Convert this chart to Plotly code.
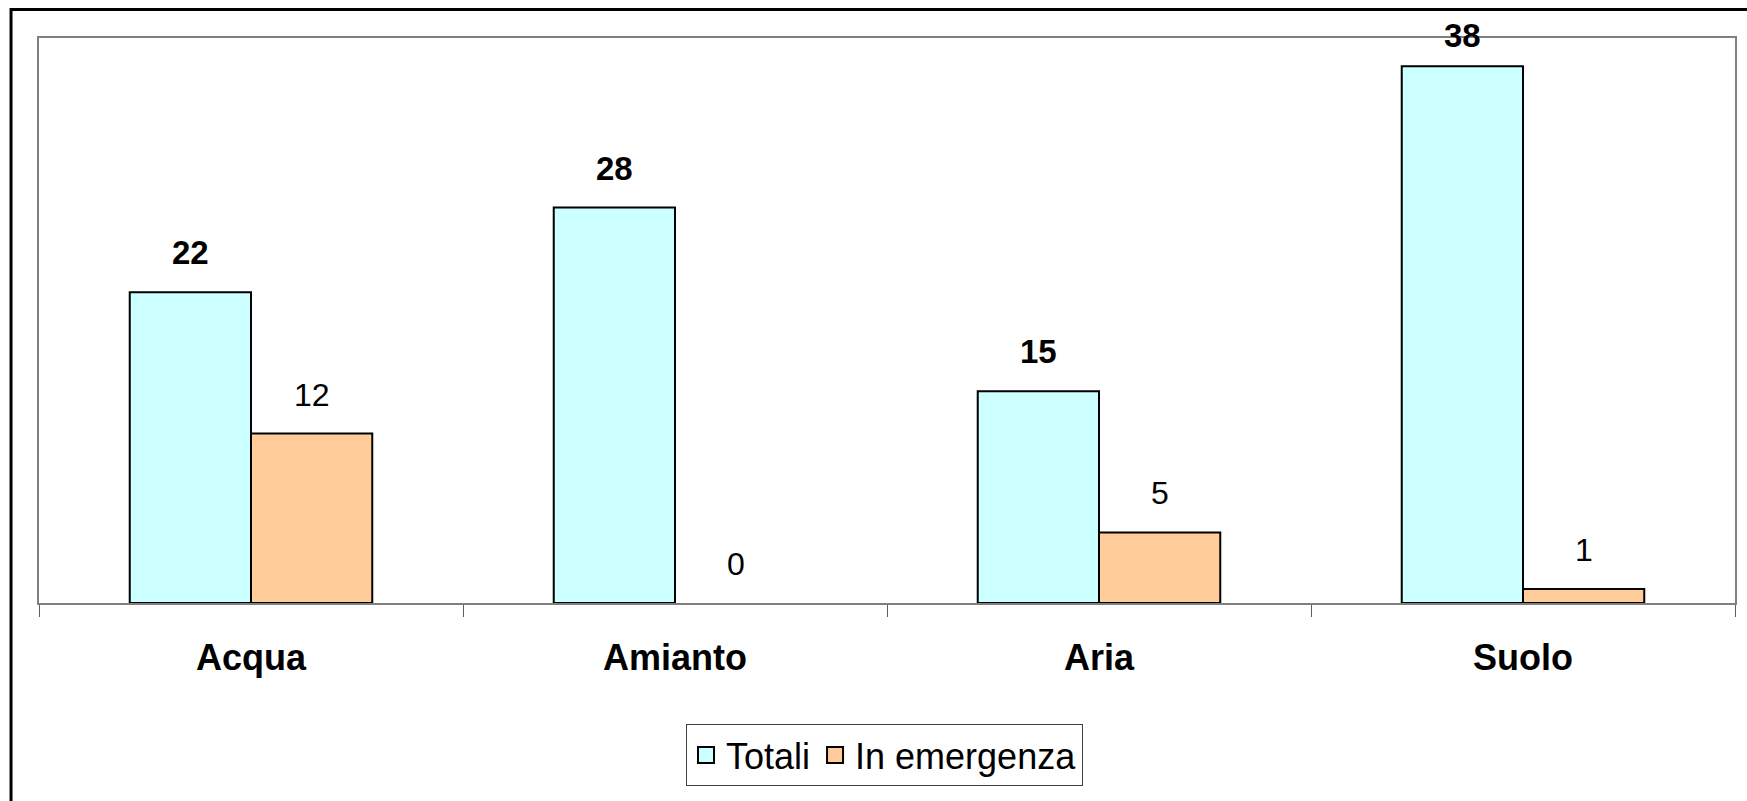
import plotly.graph_objects as go

# Data
categories = ["Acqua", "Amianto", "Aria", "Suolo"]
totali = [22, 28, 15, 38]
emergenza = [12, 0, 5, 1]
series_names = ["Totali", "In emergenza"]

# Figure geometry (pixels)
W, H = 1747, 801
ML, MR, MT, MB = 39, 10, 38, 198
PW = W - ML - MR
PH = H - MT - MB
Y_MAX = 40
BARGAP = 0.428
BAR_PX = PW / len(categories) * (1 - BARGAP) / 2

FONT = "Arial, 'Liberation Sans', sans-serif"
COL_TOT = "#CCFFFF"
COL_EME = "#FFCC99"
LABEL_GAP = 19      # distance between label box and bar top
LABEL_BOX = 42      # approximate label box height
LABEL_TOP_MIN = 14  # labels never rise above this pixel row


def px_to_paper_x(px):
    return (px - ML) / PW


def px_to_paper_y(px):
    return (H - MB - px) / PH


def label_shift(v):
    bar_top = MT + PH * (1 - v / Y_MAX)
    return min(LABEL_GAP, bar_top - LABEL_TOP_MIN - LABEL_BOX)


def outline_widths(vals):
    return [2 if v > 0 else 0 for v in vals]


fig = go.Figure()
fig.add_trace(go.Bar(
    x=categories, y=totali, name=series_names[0], legendgroup="tot",
    showlegend=False,
    marker=dict(color=COL_TOT, line=dict(color="black", width=outline_widths(totali))),
))
fig.add_trace(go.Bar(
    x=categories, y=emergenza, name=series_names[1], legendgroup="eme",
    showlegend=False,
    marker=dict(color=COL_EME, line=dict(color="black", width=outline_widths(emergenza))),
))

# Legend entries with larger square swatches
for name, col, grp in [(series_names[0], COL_TOT, "tot"), (series_names[1], COL_EME, "eme")]:
    fig.add_trace(go.Scatter(
        x=[None], y=[None], mode="markers", name=name, legendgroup=grp,
        marker=dict(symbol="square", size=16, color=col, line=dict(color="black", width=2)),
        hoverinfo="skip",
    ))

# Value labels above the bars
annotations = []
for cat, v in zip(categories, totali):
    annotations.append(dict(
        x=cat, y=v, xref="x", yref="y", text=f"<b>{v}</b>", showarrow=False,
        xshift=-BAR_PX / 2, yshift=label_shift(v), yanchor="bottom",
        font=dict(family=FONT, size=33, color="black"),
    ))
for cat, v in zip(categories, emergenza):
    annotations.append(dict(
        x=cat, y=v, xref="x", yref="y", text=f"{v}", showarrow=False,
        xshift=BAR_PX / 2, yshift=label_shift(v), yanchor="bottom",
        font=dict(family=FONT, size=32, color="black"),
    ))

# Outer chart frame
shapes = [dict(
    type="rect", xref="paper", yref="paper",
    x0=px_to_paper_x(11), x1=px_to_paper_x(1770),
    y0=px_to_paper_y(830), y1=px_to_paper_y(9.5),
    line=dict(color="black", width=3), fillcolor="rgba(0,0,0,0)",
    layer="above",
)]

fig.update_layout(
    width=W, height=H,
    margin=dict(l=ML, r=MR, t=MT, b=MB, pad=0),
    paper_bgcolor="white", plot_bgcolor="white",
    barmode="group", bargap=BARGAP, bargroupgap=0,
    font=dict(family=FONT, color="black"),
    annotations=annotations,
    shapes=shapes,
    showlegend=True,
    legend=dict(
        orientation="h", x=px_to_paper_x(885.5), xanchor="center",
        y=px_to_paper_y(724), yanchor="top",
        bordercolor="#404040", borderwidth=1, bgcolor="white",
        font=dict(family=FONT, size=36, color="black"),
        itemsizing="trace",
    ),
    xaxis=dict(
        type="category", tickson="boundaries",
        showline=True, linecolor="#808080", linewidth=2, mirror=True,
        ticks="outside", ticklen=12, tickcolor="#606060", tickwidth=1,
        tickfont=dict(family=FONT, size=36, color="black", weight="bold"),
        ticklabelstandoff=22,
        showgrid=False, zeroline=False,
    ),
    yaxis=dict(
        range=[0, Y_MAX], showticklabels=False, ticks="",
        showline=True, linecolor="#808080", linewidth=2, mirror=True,
        showgrid=False, zeroline=False,
    ),
)

fig.write_html("out.html")
